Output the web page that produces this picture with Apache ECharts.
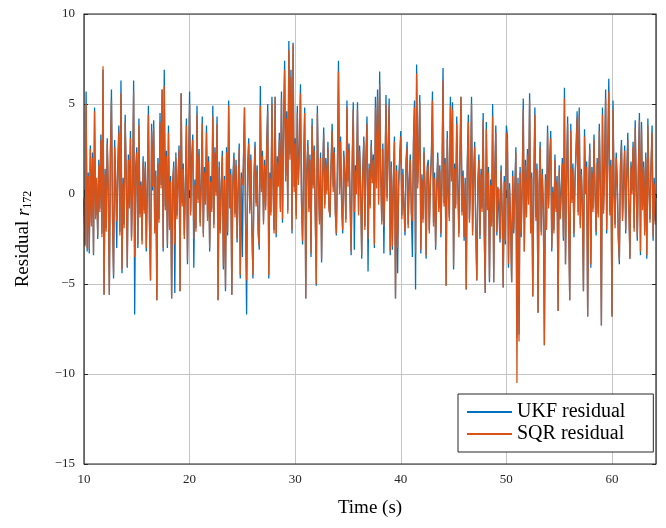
<!DOCTYPE html>
<html>

<head>
  <meta charset="utf-8" />
  <title>Residual r172</title>
  <script src="https://cdn.jsdelivr.net/npm/echarts@6.0.0/dist/echarts.min.js"></script>
  <style>
    body {
      margin: 0;
      background-color: #fff;
    }
  </style>
</head>

<body>
  <div id="main" style="width: 666px;height:528px;"></div>
  <script type="text/javascript">
    // residuals sampled at 10 Hz, first sample at t = 10 s
    var t0 = 10, dt = 0.1;
    var xTicks = [10, 20, 30, 40, 50, 60];
    var yTicks = [-15, -10, -5, 0, 5, 10];
    var names = ['UKF residual', 'SQR residual'];

    // one row = one second
    var ukf = [
      -0.4, -2.8, 5.7, -3.2, 1.2, -3.3, 2.7, -1.6, 2.3, -3.4,
      4.8, -1.2, 0.6, -2.5, 1.9, -0.8, 3.3, -2.2, 6.9, -5.6,
      1.4, -1.9, 3.1, 0.2, -5.6, 2.4, 5.8, -1.3, -4.7, 3.0,
      0.8, -3.0, 1.6, 3.8, -2.1, 6.3, -4.4, 0.9, -1.7, 4.4,
      1.1, -4.1, 2.2, -0.6, 3.5, -2.4, 0.3, 6.3, -6.7, 1.5,
      2.6, -3.0, 4.2, -1.1, 0.7, -2.6, 2.1, -0.9, 1.8, -3.2,
      0.4, 4.9, -1.5, -4.8, 3.9, 0.2, 4.1, -2.0, 1.3, -5.9,
      2.0, -1.4, 4.5, 0.5, 5.8, -3.2, 6.9, -0.7, 2.4, -3.0,
      3.8, -1.8, 1.0, -5.8, 0.6, 1.8, -5.5, 2.3, -1.2, 0.9,
      2.7, -5.4, 5.6, -0.5, 1.7, -2.3, 0.4, 4.2, -3.9, 1.3,
      5.7, -1.0, 2.0, 3.3, -4.1, 0.8, -1.9, 4.9, -0.3, 2.5,
      -1.6, 0.7, 4.3, -2.2, 1.5, -0.4, 3.8, -1.3, 2.1, -3.2,
      1.0, -0.8, 4.9, -1.7, 2.6, 0.1, 4.3, -5.9, 1.8, -2.0,
      0.6, 2.4, -4.2, 1.0, -5.4, 2.6, -2.3, 5.2, -0.6, 1.4,
      -5.6, 0.9, 2.3, -1.1, 1.9, -2.7, 0.5, 2.8, -4.7, 1.2,
      -3.5, 2.0, 4.8, -1.4, -6.7, 1.6, 3.1, -0.9, 2.2, -1.8,
      -4.7, 1.1, 2.9, -0.5, 1.6, -2.1, -3.1, 6.0, 0.3, 2.4,
      -1.5, 1.9, -0.7, 2.8, 5.0, -4.7, 1.2, -1.0, 5.4, 0.8,
      -2.0, 5.4, -2.4, 2.1, 0.6, 3.4, -0.8, 5.7, -1.6, 3.9,
      7.4, 1.0, 4.6, -0.9, 8.5, 2.2, 6.9, -2.2, 8.4, 0.4,
      3.1, -1.2, 4.9, 0.8, 2.5, 6.1, -0.4, -2.8, 1.9, 4.8,
      -5.8, 1.4, 3.0, -0.8, 2.2, -3.5, 4.2, 0.5, 2.7, -1.1,
      -5.1, 4.9, 0.9, -1.5, 2.3, -3.8, 1.2, 3.7, -0.6, 2.0,
      0.2, 2.9, -0.7, -1.3, 1.8, 3.9, 0.4, 2.6, -0.9, -2.3,
      1.5, 7.4, 0.3, 3.2, -0.5, -2.2, 2.4, 1.1, -1.4, 5.2,
      0.7, 2.8, -0.3, -3.4, 1.9, 5.1, -3.1, 1.6, 0.2, 5.1,
      -1.0, 2.7, 0.5, -3.6, 1.4, 3.2, -1.8, 2.1, 4.3, -4.3,
      1.7, -0.6, 3.0, 0.9, 2.2, -3.0, 5.4, 0.6, 5.8, -0.4,
      6.8, 1.3, -1.5, 2.8, -3.3, 1.0, 5.5, -0.2, 2.4, 5.3,
      -3.4, 1.8, -3.1, 0.9, 3.2, -5.8, 1.6, -4.4, 0.7, 2.1,
      3.5, -1.2, 1.4, -0.6, -2.3, 1.9, 2.9, -1.7, 0.8, 2.2,
      -0.9, -3.5, 3.0, 5.2, -5.3, 7.2, 0.6, 2.4, 5.5, -3.3,
      1.1, -1.4, 2.6, 0.3, -3.6, 1.5, 1.9, -2.0, 0.7, 2.3,
      5.7, -1.6, 1.2, -3.1, 0.4, 2.3, -0.8, 1.6, -2.4, 0.9,
      7.0, -0.5, 2.0, -5.1, 3.5, 0.2, -1.3, 5.4, 1.0, 5.1,
      -4.2, 1.7, -0.6, 4.3, 0.8, -2.2, 2.0, 5.4, -1.0, 1.3,
      -2.6, 0.9, -5.3, 1.8, 4.4, -1.4, 0.6, 5.4, -2.1, 1.1,
      2.9, -1.8, -4.8, 0.7, 2.2, -2.5, 1.4, -0.8, 4.5, -1.9,
      -5.5, 4.0, -0.7, 1.5, -4.9, 0.8, -1.6, 5.0, -4.9, 1.2,
      3.8, -2.3, 0.4, 0.5, -2.7, 1.6, -0.9, -5.2, 1.0, -2.8,
      3.8, 3.2, -4.1, 0.6, -1.5, -4.9, 1.3, -2.2, 0.3, 2.6,
      -8.0, 0.9, -7.8, 1.5, -2.4, 0.7, 5.3, -3.2, 1.9, -1.1,
      2.5, -0.4, 5.6, -2.0, 1.2, -5.7, 0.8, 4.8, -1.3, 1.7,
      -6.6, 0.5, 2.9, -2.1, 1.4, -0.7, -8.4, 1.1, -1.8, 3.8,
      -0.6, 1.9, 3.5, -3.2, 0.4, -2.0, 2.2, -0.8, 1.0, -6.5,
      1.6, -1.2, 0.3, 2.0, -2.6, 5.9, -3.9, 1.2, 4.3, -1.5,
      -5.9, 3.9, -0.3, 1.7, -2.4, 0.9, 2.6, 4.6, -1.0, 4.8,
      -1.7, 1.4, -0.5, -5.4, 3.6, 0.2, 1.8, -6.8, 0.6, 2.8,
      -4.1, 1.5, -0.8, 3.3, 0.1, -2.3, 2.0, -1.1, 3.9, 0.5,
      -7.3, 4.8, -0.9, 1.6, 5.8, -2.2, 2.4, 6.4, -1.0, 1.9,
      -6.8, 5.2, 0.3, -1.7, 2.3, 0.8, -2.5, -3.9, 1.6, 3.0,
      -1.3, 0.6, 2.7, -2.2, 1.1, 3.4, -0.6, -3.6, 1.8, 0.2,
      2.9, -1.9, 4.1, 0.4, -2.6, 1.5, 4.5, -3.4, 4.0, -0.7,
      1.8, -2.1, 2.3, -3.6, 4.2, 0.5, -1.4, 1.7, 3.8, -2.6,
      0.9, -1.5
    ];

    var sqr = [
      -0.2, -2.9, 5.0, -3.0, 1.0, -3.1, 2.5, -1.8, 2.0, -3.3,
      4.6, -1.4, 0.9, -2.3, 1.6, -1.0, 3.0, -2.4, 7.1, -5.6,
      1.1, -2.1, 2.8, 0.4, -5.6, 2.1, 5.2, -1.5, -4.5, 2.6,
      1.0, -1.5, 1.3, 3.4, -2.3, 5.6, -4.2, 0.6, -1.9, 4.0,
      0.8, -4.0, 1.9, -0.8, 3.1, -2.6, 0.6, 5.7, -3.5, 1.2,
      2.3, -2.8, 3.8, -1.3, 0.5, -2.8, 1.8, -1.1, 1.5, -3.0,
      0.7, 4.4, -1.7, -4.8, 3.5, 0.4, 3.7, -2.2, 1.0, -5.9,
      1.7, -1.6, 4.0, 0.3, 5.8, -3.0, 6.0, -0.9, 2.1, -2.8,
      3.4, -2.0, 0.7, -5.8, 0.8, 1.5, -2.8, 2.0, -1.4, 0.6,
      2.4, -5.4, 5.6, -0.7, 1.4, -2.5, 0.2, 3.8, -3.7, 1.0,
      5.0, -1.2, 1.7, 3.0, -2.5, 0.5, -2.1, 4.4, -0.5, 2.2,
      -1.8, 0.4, 3.9, -2.4, 1.2, -0.6, 3.4, -1.5, 1.8, -3.0,
      0.7, -1.0, 4.3, -1.9, 2.3, -0.1, 3.9, -5.9, 1.5, -2.2,
      0.3, 2.1, -4.0, 0.8, -5.2, 2.3, -2.1, 4.9, -0.8, 1.1,
      -5.6, 0.6, 2.0, -1.3, 1.6, -2.5, 0.2, 2.5, -4.5, 0.9,
      0.5, 1.7, 4.8, -1.6, -4.8, 1.3, 2.8, -1.1, 1.9, -2.0,
      -4.5, 0.8, 2.6, -0.7, 1.3, -2.3, -2.9, 4.9, 0.1, 2.1,
      -1.7, 1.6, -0.9, 2.5, 4.6, -4.5, 0.9, -1.2, 5.0, 0.5,
      -2.2, 5.4, -2.2, 1.8, 0.4, 3.0, -1.0, 5.3, -1.4, 3.5,
      6.9, 0.7, 4.2, -1.1, 8.0, 1.9, 6.5, -2.0, 8.3, 0.1,
      2.8, -1.4, 4.5, 0.5, 2.2, 5.6, -0.6, -2.6, 1.6, 4.5,
      -5.8, 1.1, 2.7, -1.0, 1.9, -3.3, 3.8, 0.3, 2.4, -1.3,
      -5.0, 4.5, 0.6, -1.7, 2.0, -3.6, 0.9, 3.3, -0.8, 1.7,
      0.0, 2.6, -0.9, -1.2, 1.5, 3.5, 0.1, 2.3, -1.1, -2.2,
      1.2, 6.8, 0.0, 2.9, -0.7, -2.0, 2.1, 0.8, -1.6, 4.8,
      0.4, 2.5, -0.5, -3.2, 1.6, 4.7, -1.0, 1.3, 0.0, 4.7,
      -1.2, 2.4, 0.2, -3.4, 1.1, 2.9, -2.0, 1.8, 3.9, -2.5,
      1.4, -0.8, 2.7, 0.6, 1.9, -2.8, 4.8, 0.3, 5.3, -0.6,
      6.1, 1.0, -1.7, 2.5, -1.8, 0.7, 5.0, -0.4, 2.1, 4.9,
      -3.2, 1.5, -2.9, 0.6, 2.9, -5.8, 1.3, -3.0, 0.4, 1.8,
      3.2, -1.4, 1.1, -0.8, -2.1, 1.6, 2.6, -1.9, 0.5, 1.9,
      -1.1, -1.5, 2.7, 4.8, -3.3, 6.7, 0.3, 2.1, 5.1, -3.1,
      0.8, -1.6, 2.3, 0.0, -3.4, 1.2, 1.6, -2.2, 0.4, 2.0,
      5.2, -1.8, 0.9, -2.9, 0.1, 2.0, -1.0, 1.3, -2.2, 0.6,
      6.3, -0.7, 1.7, -5.1, 3.1, 0.0, -1.5, 4.9, 0.7, 4.7,
      -4.0, 1.4, -0.8, 3.9, 0.5, -2.4, 1.7, 5.4, -1.2, 1.0,
      -2.4, 0.6, -5.3, 1.5, 4.0, -1.6, 0.3, 5.0, -2.3, 0.8,
      2.6, -2.0, -4.8, 0.4, 1.9, -2.3, 1.1, -1.0, 4.1, -2.1,
      -5.5, 3.6, -0.9, 1.2, -4.7, 0.5, -1.8, 4.3, -4.9, 0.9,
      3.4, -2.1, 0.1, 0.3, -2.5, 1.3, -1.1, -5.2, 0.7, -2.6,
      3.4, 2.9, -3.9, 0.3, -1.7, -4.9, 1.0, -2.0, 0.0, 2.3,
      -10.5, 0.6, -8.2, 1.2, -2.2, 0.4, 4.7, -3.2, 1.6, -1.3,
      2.2, -0.6, 5.2, -2.2, 0.9, -5.7, 0.5, 4.4, -1.5, 1.4,
      -6.6, 0.2, 2.6, -2.3, 1.1, -0.9, -8.4, 0.8, -2.0, 3.4,
      -0.8, 1.6, 3.1, -3.0, 0.1, -2.2, 1.9, -1.0, 0.7, -6.5,
      1.3, -1.4, 0.0, 1.7, -2.4, 5.3, -3.9, 0.9, 3.9, -1.7,
      -5.9, 3.5, -0.5, 1.4, -2.2, 0.6, 2.3, 4.2, -1.2, 4.4,
      -1.9, 1.1, -0.7, -5.4, 3.2, 0.0, 1.5, -6.8, 0.3, 2.5,
      -3.9, 1.2, -1.0, 3.0, -0.1, -2.1, 1.7, -1.3, 3.5, 0.2,
      -7.3, 4.4, -1.1, 1.3, 5.3, -2.0, 2.1, 5.7, -1.2, 1.6,
      -6.8, 4.7, 0.0, -1.9, 2.0, 0.5, -2.3, -3.7, 1.3, 2.7,
      -1.5, 0.3, 2.4, -2.0, 0.8, 3.0, -0.8, -3.6, 1.5, 0.0,
      2.6, -2.1, 3.7, 0.1, -2.4, 1.2, 4.1, -3.2, 3.6, -0.9,
      1.5, -2.3, 2.0, -3.4, 3.8, 0.2, -1.6, 1.4, 3.4, -2.4,
      0.6, -1.7
    ];

    var serif = 'Liberation Serif';
    var fontColor = '#262626';
    var gridColor = '#c4c4c4';

    function toPairs(values) {
      return values.map(function (v, i) {
        return [+(t0 + i * dt).toFixed(1), v];
      });
    }

    function minus(v) {
      return v < 0 ? '\u2212' + Math.abs(v) : String(v);
    }

    var myChart = echarts.init(document.getElementById('main'), null, { renderer: 'canvas' });

    var xCommon = {
      type: 'value',
      min: xTicks[0],
      max: 64.17,
      interval: 10,
      axisLine: { show: false },
      axisTick: { show: true, inside: true, length: 4, lineStyle: { color: fontColor } }
    };
    var yCommon = {
      type: 'value',
      min: yTicks[0],
      max: yTicks[yTicks.length - 1],
      interval: 5,
      axisLine: { show: false },
      axisTick: { show: true, inside: true, length: 4, lineStyle: { color: fontColor } }
    };

    var option = {
      backgroundColor: '#fff',
      animation: false,
      grid: {
        left: 84,
        right: 10,
        top: 14,
        bottom: 64,
        show: true,
        borderColor: fontColor,
        borderWidth: 1.2,
        z: 10
      },
      legend: {
        data: names,
        orient: 'vertical',
        left: 458,
        top: 394,
        padding: [8, 28, 8, 9],
        itemGap: 2,
        itemWidth: 45,
        itemHeight: 2,
        icon: 'rect',
        backgroundColor: '#fff',
        borderColor: fontColor,
        borderWidth: 1,
        borderRadius: 0,
        textStyle: { fontFamily: serif, fontSize: 20, color: '#000', lineHeight: 19 }
      },
      xAxis: [Object.assign({}, xCommon, {
        position: 'bottom',
        name: 'Time (s)',
        nameLocation: 'middle',
        nameGap: 35,
        nameTextStyle: { fontFamily: serif, fontSize: 19, color: '#000' },
        axisLabel: {
          margin: 9,
          fontFamily: serif,
          fontSize: 13,
          color: fontColor,
          showMaxLabel: false,
          formatter: function (v) { return xTicks.indexOf(v) >= 0 ? String(v) : ''; }
        },
        splitLine: { show: true, lineStyle: { color: gridColor, width: 1 } }
      }), Object.assign({}, xCommon, {
        position: 'top',
        axisLabel: { show: false },
        splitLine: { show: false }
      })],
      yAxis: [Object.assign({}, yCommon, {
        position: 'left',
        name: '{a|Residual }{b|r}{c|172}',
        nameLocation: 'middle',
        nameGap: 50,
        nameRotate: 90,
        nameTextStyle: {
          rich: {
            a: { fontFamily: serif, fontSize: 19, color: '#000' },
            b: { fontFamily: serif, fontSize: 19, fontStyle: 'italic', color: '#000' },
            c: { fontFamily: serif, fontSize: 12, color: '#000', padding: [9, 0, 0, 0] }
          }
        },
        axisLabel: {
          margin: 9,
          fontFamily: serif,
          fontSize: 13,
          color: fontColor,
          formatter: minus
        },
        splitLine: { show: true, lineStyle: { color: gridColor, width: 1 } }
      }), Object.assign({}, yCommon, {
        position: 'right',
        axisLabel: { show: false },
        splitLine: { show: false }
      })],
      series: [{
        name: names[0],
        type: 'line',
        data: toPairs(ukf),
        showSymbol: false,
        symbol: 'none',
        lineStyle: { color: '#0072BD', width: 1.3 },
        itemStyle: { color: '#0072BD' },
        z: 2
      }, {
        name: names[1],
        type: 'line',
        data: toPairs(sqr),
        showSymbol: false,
        symbol: 'none',
        lineStyle: { color: '#D95319', width: 1.3 },
        itemStyle: { color: '#D95319' },
        z: 3
      }]
    };

    myChart.setOption(option);
  </script>
</body>

</html>
